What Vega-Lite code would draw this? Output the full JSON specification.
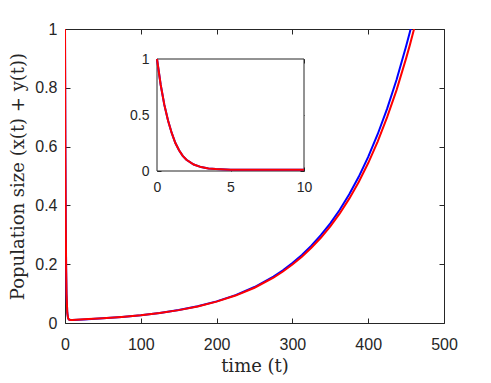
{
  "$schema": "https://vega.github.io/schema/vega-lite/v6.json",
  "autosize": {"type": "none"},
  "padding": {"left": 65, "top": 29, "right": 47, "bottom": 60},
  "width": 379,
  "height": 294,
  "background": "white",
  "config": {
    "view": {"stroke": null},
    "axis": {
      "grid": false,
      "labelFlush": false,
      "domainColor": "#262626",
      "tickColor": "#262626",
      "labelColor": "#262626",
      "titleColor": "#262626",
      "labelFont": "Liberation Sans",
      "labelFontSize": 16,
      "titleFont": "DejaVu Serif",
      "titleFontSize": 18,
      "titleFontWeight": "normal",
      "domainWidth": 1,
      "tickWidth": 1
    }
  },
  "datasets": {
    "main": [
      {"t": 0, "v": 1, "s": "blue"}, {"t": 0.5, "v": 0.59, "s": "blue"}, {"t": 1, "v": 0.34, "s": "blue"}, {"t": 1.5, "v": 0.185, "s": "blue"},
      {"t": 2, "v": 0.1, "s": "blue"}, {"t": 3, "v": 0.035, "s": "blue"}, {"t": 4, "v": 0.017, "s": "blue"}, {"t": 5, "v": 0.012, "s": "blue"},
      {"t": 7, "v": 0.0101, "s": "blue"}, {"t": 10, "v": 0.0106, "s": "blue"}, {"t": 25, "v": 0.0123, "s": "blue"}, {"t": 50, "v": 0.0159, "s": "blue"},
      {"t": 75, "v": 0.0205, "s": "blue"}, {"t": 100, "v": 0.0265, "s": "blue"}, {"t": 125, "v": 0.0342, "s": "blue"}, {"t": 150, "v": 0.0441, "s": "blue"},
      {"t": 175, "v": 0.0569, "s": "blue"}, {"t": 200, "v": 0.0735, "s": "blue"}, {"t": 225, "v": 0.0948, "s": "blue"}, {"t": 250, "v": 0.1223, "s": "blue"},
      {"t": 275, "v": 0.158, "s": "blue"}, {"t": 287.5, "v": 0.1793, "s": "blue"}, {"t": 300, "v": 0.204, "s": "blue"}, {"t": 312.5, "v": 0.2314, "s": "blue"},
      {"t": 325, "v": 0.263, "s": "blue"}, {"t": 337.5, "v": 0.2986, "s": "blue"}, {"t": 350, "v": 0.339, "s": "blue"}, {"t": 362.5, "v": 0.3853, "s": "blue"},
      {"t": 375, "v": 0.438, "s": "blue"}, {"t": 387.5, "v": 0.4972, "s": "blue"}, {"t": 400, "v": 0.565, "s": "blue"}, {"t": 412.5, "v": 0.642, "s": "blue"},
      {"t": 425, "v": 0.729, "s": "blue"}, {"t": 437.5, "v": 0.828, "s": "blue"}, {"t": 450, "v": 0.941, "s": "blue"}, {"t": 455, "v": 0.9899, "s": "blue"},
      {"t": 460, "v": 1.042, "s": "blue"}, {"t": 465, "v": 1.096, "s": "blue"}, {"t": 470, "v": 1.153, "s": "blue"},
      {"t": 0, "v": 1, "s": "red"}, {"t": 0.5, "v": 0.59, "s": "red"}, {"t": 1, "v": 0.34, "s": "red"}, {"t": 1.5, "v": 0.185, "s": "red"},
      {"t": 2, "v": 0.1, "s": "red"}, {"t": 3, "v": 0.035, "s": "red"}, {"t": 4, "v": 0.017, "s": "red"}, {"t": 5, "v": 0.012, "s": "red"},
      {"t": 7, "v": 0.0101, "s": "red"}, {"t": 10, "v": 0.0106, "s": "red"}, {"t": 25, "v": 0.0125, "s": "red"}, {"t": 50, "v": 0.016, "s": "red"},
      {"t": 75, "v": 0.0206, "s": "red"}, {"t": 100, "v": 0.0265, "s": "red"}, {"t": 125, "v": 0.0341, "s": "red"}, {"t": 150, "v": 0.0438, "s": "red"},
      {"t": 175, "v": 0.0564, "s": "red"}, {"t": 200, "v": 0.0726, "s": "red"}, {"t": 225, "v": 0.0933, "s": "red"}, {"t": 250, "v": 0.12, "s": "red"},
      {"t": 275, "v": 0.154, "s": "red"}, {"t": 287.5, "v": 0.1752, "s": "red"}, {"t": 300, "v": 0.199, "s": "red"}, {"t": 312.5, "v": 0.2253, "s": "red"},
      {"t": 325, "v": 0.256, "s": "red"}, {"t": 337.5, "v": 0.2898, "s": "red"}, {"t": 350, "v": 0.329, "s": "red"}, {"t": 362.5, "v": 0.3727, "s": "red"},
      {"t": 375, "v": 0.423, "s": "red"}, {"t": 387.5, "v": 0.4794, "s": "red"}, {"t": 400, "v": 0.544, "s": "red"}, {"t": 412.5, "v": 0.617, "s": "red"},
      {"t": 425, "v": 0.7, "s": "red"}, {"t": 437.5, "v": 0.793, "s": "red"}, {"t": 450, "v": 0.9, "s": "red"}, {"t": 455, "v": 0.946, "s": "red"},
      {"t": 460, "v": 0.995, "s": "red"}, {"t": 465, "v": 1.046, "s": "red"}, {"t": 470, "v": 1.1, "s": "red"}
    ],
    "inset": [
      {"t": 0, "v": 1, "s": "blue"}, {"t": 0.25, "v": 0.77, "s": "blue"}, {"t": 0.5, "v": 0.59, "s": "blue"}, {"t": 0.75, "v": 0.45, "s": "blue"},
      {"t": 1, "v": 0.34, "s": "blue"}, {"t": 1.25, "v": 0.25, "s": "blue"}, {"t": 1.5, "v": 0.185, "s": "blue"}, {"t": 1.75, "v": 0.135, "s": "blue"},
      {"t": 2, "v": 0.1, "s": "blue"}, {"t": 2.5, "v": 0.058, "s": "blue"}, {"t": 3, "v": 0.035, "s": "blue"}, {"t": 3.5, "v": 0.023, "s": "blue"},
      {"t": 4, "v": 0.017, "s": "blue"}, {"t": 5, "v": 0.012, "s": "blue"}, {"t": 6, "v": 0.0105, "s": "blue"}, {"t": 7, "v": 0.0101, "s": "blue"},
      {"t": 8, "v": 0.0102, "s": "blue"}, {"t": 9, "v": 0.0104, "s": "blue"}, {"t": 10, "v": 0.0106, "s": "blue"},
      {"t": 0, "v": 1, "s": "red"}, {"t": 0.25, "v": 0.77, "s": "red"}, {"t": 0.5, "v": 0.59, "s": "red"}, {"t": 0.75, "v": 0.45, "s": "red"},
      {"t": 1, "v": 0.34, "s": "red"}, {"t": 1.25, "v": 0.25, "s": "red"}, {"t": 1.5, "v": 0.185, "s": "red"}, {"t": 1.75, "v": 0.135, "s": "red"},
      {"t": 2, "v": 0.1, "s": "red"}, {"t": 2.5, "v": 0.058, "s": "red"}, {"t": 3, "v": 0.035, "s": "red"}, {"t": 3.5, "v": 0.023, "s": "red"},
      {"t": 4, "v": 0.017, "s": "red"}, {"t": 5, "v": 0.012, "s": "red"}, {"t": 6, "v": 0.0105, "s": "red"}, {"t": 7, "v": 0.0101, "s": "red"},
      {"t": 8, "v": 0.0102, "s": "red"}, {"t": 9, "v": 0.0104, "s": "red"}, {"t": 10, "v": 0.0106, "s": "red"}
    ]
  },
  "layer": [
    {
      "data": {"name": "main"},
      "mark": {"type": "line", "strokeWidth": 2, "clip": true},
      "encoding": {
        "x": {
          "field": "t", "type": "quantitative",
          "scale": {"domain": [0, 500], "nice": false, "zero": false},
          "axis": {"orient": "bottom", "values": [0, 100, 200, 300, 400, 500], "tickSize": -5, "labelPadding": 18, "title": "time (t)", "titlePadding": 5}
        },
        "y": {
          "field": "v", "type": "quantitative",
          "scale": {"domain": [0, 1], "nice": false},
          "axis": {"orient": "left", "values": [0, 0.2, 0.4, 0.6, 0.8, 1], "format": ".1~f", "tickSize": -5, "labelPadding": 13, "title": "Population size (x(t) + y(t))", "titlePadding": 7}
        },
        "color": {"field": "s", "type": "nominal", "scale": {"domain": ["blue", "red"], "range": ["#0000ff", "#ff0000"]}, "legend": null}
      }
    },
    {
      "data": {"values": [{"t": 0, "v": 0}]},
      "mark": {"type": "point", "opacity": 0},
      "encoding": {
        "x": {
          "field": "t", "type": "quantitative",
          "scale": {"domain": [0, 500], "nice": false, "zero": false},
          "axis": {"orient": "top", "values": [0, 100, 200, 300, 400, 500], "tickSize": -5, "labels": false, "title": null}
        },
        "y": {
          "field": "v", "type": "quantitative",
          "scale": {"domain": [0, 1], "nice": false},
          "axis": {"orient": "right", "values": [0, 0.2, 0.4, 0.6, 0.8, 1], "tickSize": -5, "labels": false, "title": null}
        }
      }
    },
    {
      "layer": [
        {
          "data": {"values": [{}]},
          "mark": {"type": "rect", "fill": "white", "stroke": "#262626", "strokeWidth": 1},
          "encoding": {
            "x": {"datum": 0, "type": "quantitative",
              "scale": {"domain": [0, 10], "range": [92, 239], "nice": false, "zero": false},
              "axis": {"orient": "bottom", "offset": -152, "values": [0, 5, 10], "tickSize": -4, "labelPadding": 13, "labelFontSize": 14, "domain": false, "title": null}},
            "x2": {"datum": 10},
            "y": {"datum": 0, "type": "quantitative",
              "scale": {"domain": [0, 1], "range": [142, 30], "nice": false, "zero": false},
              "axis": {"orient": "left", "offset": -92, "values": [0, 0.5, 1], "format": ".1~f", "tickSize": -4, "labelPadding": 12, "labelFontSize": 14, "domain": false, "title": null}},
            "y2": {"datum": 1}
          }
        },
        {
          "data": {"name": "inset"},
          "mark": {"type": "line", "strokeWidth": 2},
          "encoding": {
            "x": {"field": "t", "type": "quantitative"},
            "y": {"field": "v", "type": "quantitative"},
            "color": {"field": "s", "type": "nominal", "scale": {"domain": ["blue", "red"], "range": ["#0000ff", "#ff0000"]}, "legend": null}
          }
        }
      ]
    },
    {
      "data": {"values": [{"t": 0, "v": 0}]},
      "mark": {"type": "point", "opacity": 0},
      "encoding": {
        "x": {
          "field": "t", "type": "quantitative",
          "scale": {"domain": [0, 10], "range": [92, 239], "nice": false, "zero": false},
          "axis": {"orient": "top", "offset": -30, "values": [0, 5, 10], "tickSize": -4, "labels": false, "domain": false, "title": null}
        },
        "y": {
          "field": "v", "type": "quantitative",
          "scale": {"domain": [0, 1], "range": [142, 30], "nice": false, "zero": false},
          "axis": {"orient": "right", "offset": -140, "values": [0, 0.5, 1], "tickSize": -4, "labels": false, "domain": false, "title": null}
        }
      }
    }
  ],
  "resolve": {
    "scale": {"x": "independent", "y": "independent"},
    "axis": {"x": "independent", "y": "independent"}
  }
}
